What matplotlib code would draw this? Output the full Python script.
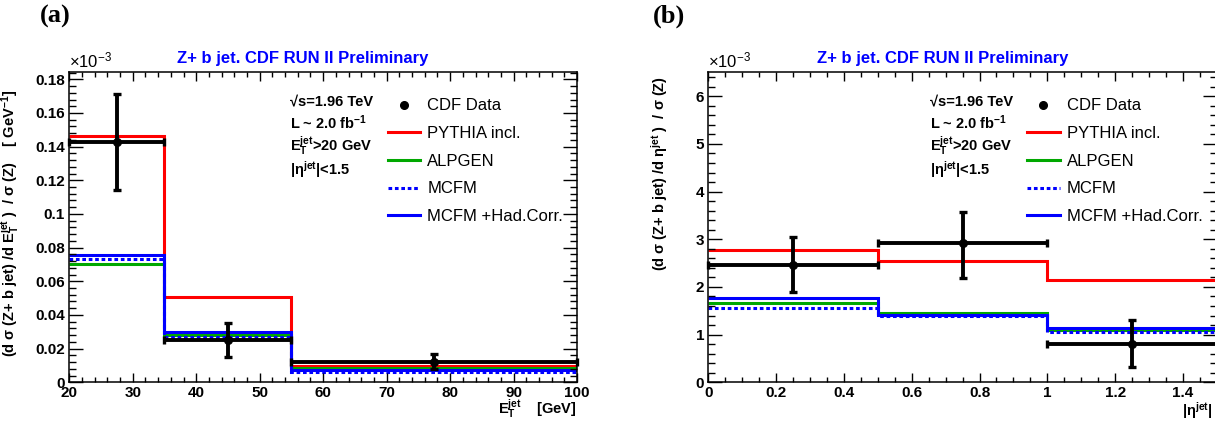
import numpy as np
import matplotlib
matplotlib.use('Agg')
import matplotlib.pyplot as plt
from matplotlib.ticker import MultipleLocator, FuncFormatter
from matplotlib.lines import Line2D

plt.rcParams['font.family'] = ['Liberation Sans', 'DejaVu Sans']
plt.rcParams['mathtext.fontset'] = 'custom'
plt.rcParams['mathtext.rm'] = 'Liberation Sans:bold'
plt.rcParams['mathtext.it'] = 'Liberation Sans:bold'
plt.rcParams['mathtext.bf'] = 'Liberation Sans:bold'

# panel (a): E_T^jet, values in units of 1e-3 GeV^-1
et_edges = [20, 35, 55, 100]
et_data = [0.1426, 0.0253, 0.0121]
et_err_up = [0.0284, 0.0101, 0.0045]
et_err_dn = [0.0286, 0.0103, 0.0044]
et_pythia = [0.1462, 0.0507, 0.0097]
et_alpgen = [0.0703, 0.0282, 0.0085]
et_mcfm = [0.0733, 0.0271, 0.0061]
et_mcfm_had = [0.0755, 0.0299, 0.0073]

# panel (b): |eta^jet|, values in units of 1e-3
eta_edges = [0.0, 0.5, 1.0, 1.5]
eta_data = [2.47, 2.92, 0.80]
eta_err_up = [0.58, 0.66, 0.51]
eta_err_dn = [0.58, 0.74, 0.49]
eta_pythia = [2.77, 2.54, 2.14]
eta_alpgen = [1.66, 1.46, 1.10]
eta_mcfm = [1.55, 1.38, 1.05]
eta_mcfm_had = [1.76, 1.42, 1.13]

RED = '#ff0000'
GREEN = '#00a800'
BLUE = '#0000ff'

fig = plt.figure(figsize=(12.15, 4.21), dpi=100)


def fmt(v, pos):
    s = ('%.2f' % v).rstrip('0').rstrip('.')
    return s


def draw_panel(ax, edges, data, eup, edn, pythia, alpgen, mcfm, mcfm_had, xlim, ylim):
    edges = np.array(edges)
    centers = 0.5 * (edges[1:] + edges[:-1])
    halfw = 0.5 * (edges[1:] - edges[:-1])
    ax.stairs(pythia, edges, baseline=None, color=RED, lw=2.2)
    ax.stairs(alpgen, edges, baseline=None, color=GREEN, lw=2.2)
    ax.stairs(mcfm_had, edges, baseline=None, color=BLUE, lw=2.2)
    ax.stairs(mcfm, edges, baseline=None, color=BLUE, lw=2.2, ls=(0, (1.2, 0.9)))
    ax.errorbar(centers, data, xerr=halfw, yerr=[edn, eup], fmt='o', color='black',
                ms=5.5, lw=2.8, capsize=2.6, capthick=2.4, clip_on=False, zorder=5)
    ax.set_xlim(*xlim)
    ax.set_ylim(*ylim)
    ax.tick_params(which='both', direction='in', top=True, right=True, width=1.0,
                   labelsize=11, pad=3)
    ax.tick_params(axis='y', which='major', length=10)
    ax.tick_params(axis='y', which='minor', length=5)
    ax.tick_params(axis='x', which='major', length=6.5)
    ax.tick_params(axis='x', which='minor', length=3.3)
    for sp in ax.spines.values():
        sp.set_linewidth(1.1)
    ax.text(0.0, 1.008, '\u00d710$^{\\mathregular{-3}}$', transform=ax.transAxes, fontsize=12,
            ha='left', va='bottom')
    # info text
    info = ['\u221as=1.96 TeV', r'L ~ 2.0 fb$^{\mathregular{-1}}$', r'E$_\mathregular{T}^\mathregular{jet}$>20 GeV',
            r'|$\mathregular{\eta}^\mathregular{jet}$|<1.5']
    ys = [0.907, 0.837, 0.762, 0.685]
    for t, y in zip(info, ys):
        ax.text(0.435, y, t, transform=ax.transAxes, fontsize=10.5, fontweight='bold',
                ha='left', va='center')
    handles = [
        Line2D([], [], ls='none', marker='o', color='black', ms=5.5),
        Line2D([], [], color=RED, lw=2.2),
        Line2D([], [], color=GREEN, lw=2.2),
        Line2D([], [], color=BLUE, lw=2.2, ls=(0, (1.2, 0.9))),
        Line2D([], [], color=BLUE, lw=2.2),
    ]
    labels = ['CDF Data', 'PYTHIA incl.', 'ALPGEN', 'MCFM', 'MCFM +Had.Corr.']
    ax.legend(handles, labels, loc='upper left',
              bbox_to_anchor=(0.627, 0.916), frameon=False, fontsize=12,
              handlelength=1.95, handletextpad=0.42, labelspacing=0.76,
              borderaxespad=0.0, borderpad=0.0)
    return ax


ax1 = fig.add_axes([0.057, 0.092, 0.418, 0.736])
draw_panel(ax1, et_edges, et_data, et_err_up, et_err_dn, et_pythia, et_alpgen, et_mcfm,
           et_mcfm_had, (20, 100), (0, 0.1841))
ax1.xaxis.set_major_locator(MultipleLocator(10))
ax1.xaxis.set_minor_locator(MultipleLocator(2))
ax1.yaxis.set_major_locator(MultipleLocator(0.02))
ax1.yaxis.set_minor_locator(MultipleLocator(0.004))
ax1.yaxis.set_major_formatter(FuncFormatter(fmt))
ax1.set_ylabel(r'(d $\mathregular{\sigma}$ (Z+ b jet) /d E$_\mathregular{T}^\mathregular{jet}$ )  / $\mathregular{\sigma}$ (Z)    [ GeV$^{\mathregular{-1}}$]',
               fontsize=10.5, fontweight='bold')
ax1.yaxis.set_label_coords(-0.093, 0.512)

ax2 = fig.add_axes([0.583, 0.092, 0.4185, 0.736])
draw_panel(ax2, eta_edges, eta_data, eta_err_up, eta_err_dn, eta_pythia, eta_alpgen, eta_mcfm,
           eta_mcfm_had, (0, 1.5), (0, 6.5))
ax2.xaxis.set_major_locator(MultipleLocator(0.2))
ax2.xaxis.set_minor_locator(MultipleLocator(0.05))
ax2.yaxis.set_major_locator(MultipleLocator(1))
ax2.yaxis.set_minor_locator(MultipleLocator(0.2))
ax2.xaxis.set_major_formatter(FuncFormatter(fmt))
ax2.yaxis.set_major_formatter(FuncFormatter(fmt))
ax2.set_ylabel(r'(d $\mathregular{\sigma}$ (Z+ b jet) /d $\mathregular{\eta}^\mathregular{jet}$ )  / $\mathregular{\sigma}$ (Z)',
               fontsize=10.5, fontweight='bold')
ax2.yaxis.set_label_coords(-0.075, 0.675)

for ax in (ax1, ax2):
    for lab in ax.get_xticklabels() + ax.get_yticklabels():
        lab.set_fontweight('bold')

fig.text(577 / 1215, 0.0, r'E$_\mathregular{T}^\mathregular{jet}$    [GeV]',
         fontsize=10.5, fontweight='bold', ha='right', va='bottom')
fig.text(1213 / 1215, 0.0, r'|$\mathregular{\eta}^\mathregular{jet}$|',
         fontsize=10.5, fontweight='bold', ha='right', va='bottom')

fig.text(0.249, 0.86, 'Z+ b jet. CDF RUN II Preliminary', color=BLUE, fontsize=12,
         fontweight='bold', ha='center', va='center')
fig.text(0.776, 0.86, 'Z+ b jet. CDF RUN II Preliminary', color=BLUE, fontsize=12,
         fontweight='bold', ha='center', va='center')
fig.text(40 / 1215, 0.962, '(a)', family='Liberation Serif', fontsize=19, fontweight='bold',
         ha='left', va='center')
fig.text(653 / 1215, 0.962, '(b)', family='Liberation Serif', fontsize=19, fontweight='bold',
         ha='left', va='center')

fig.savefig('out.png', dpi=100)
